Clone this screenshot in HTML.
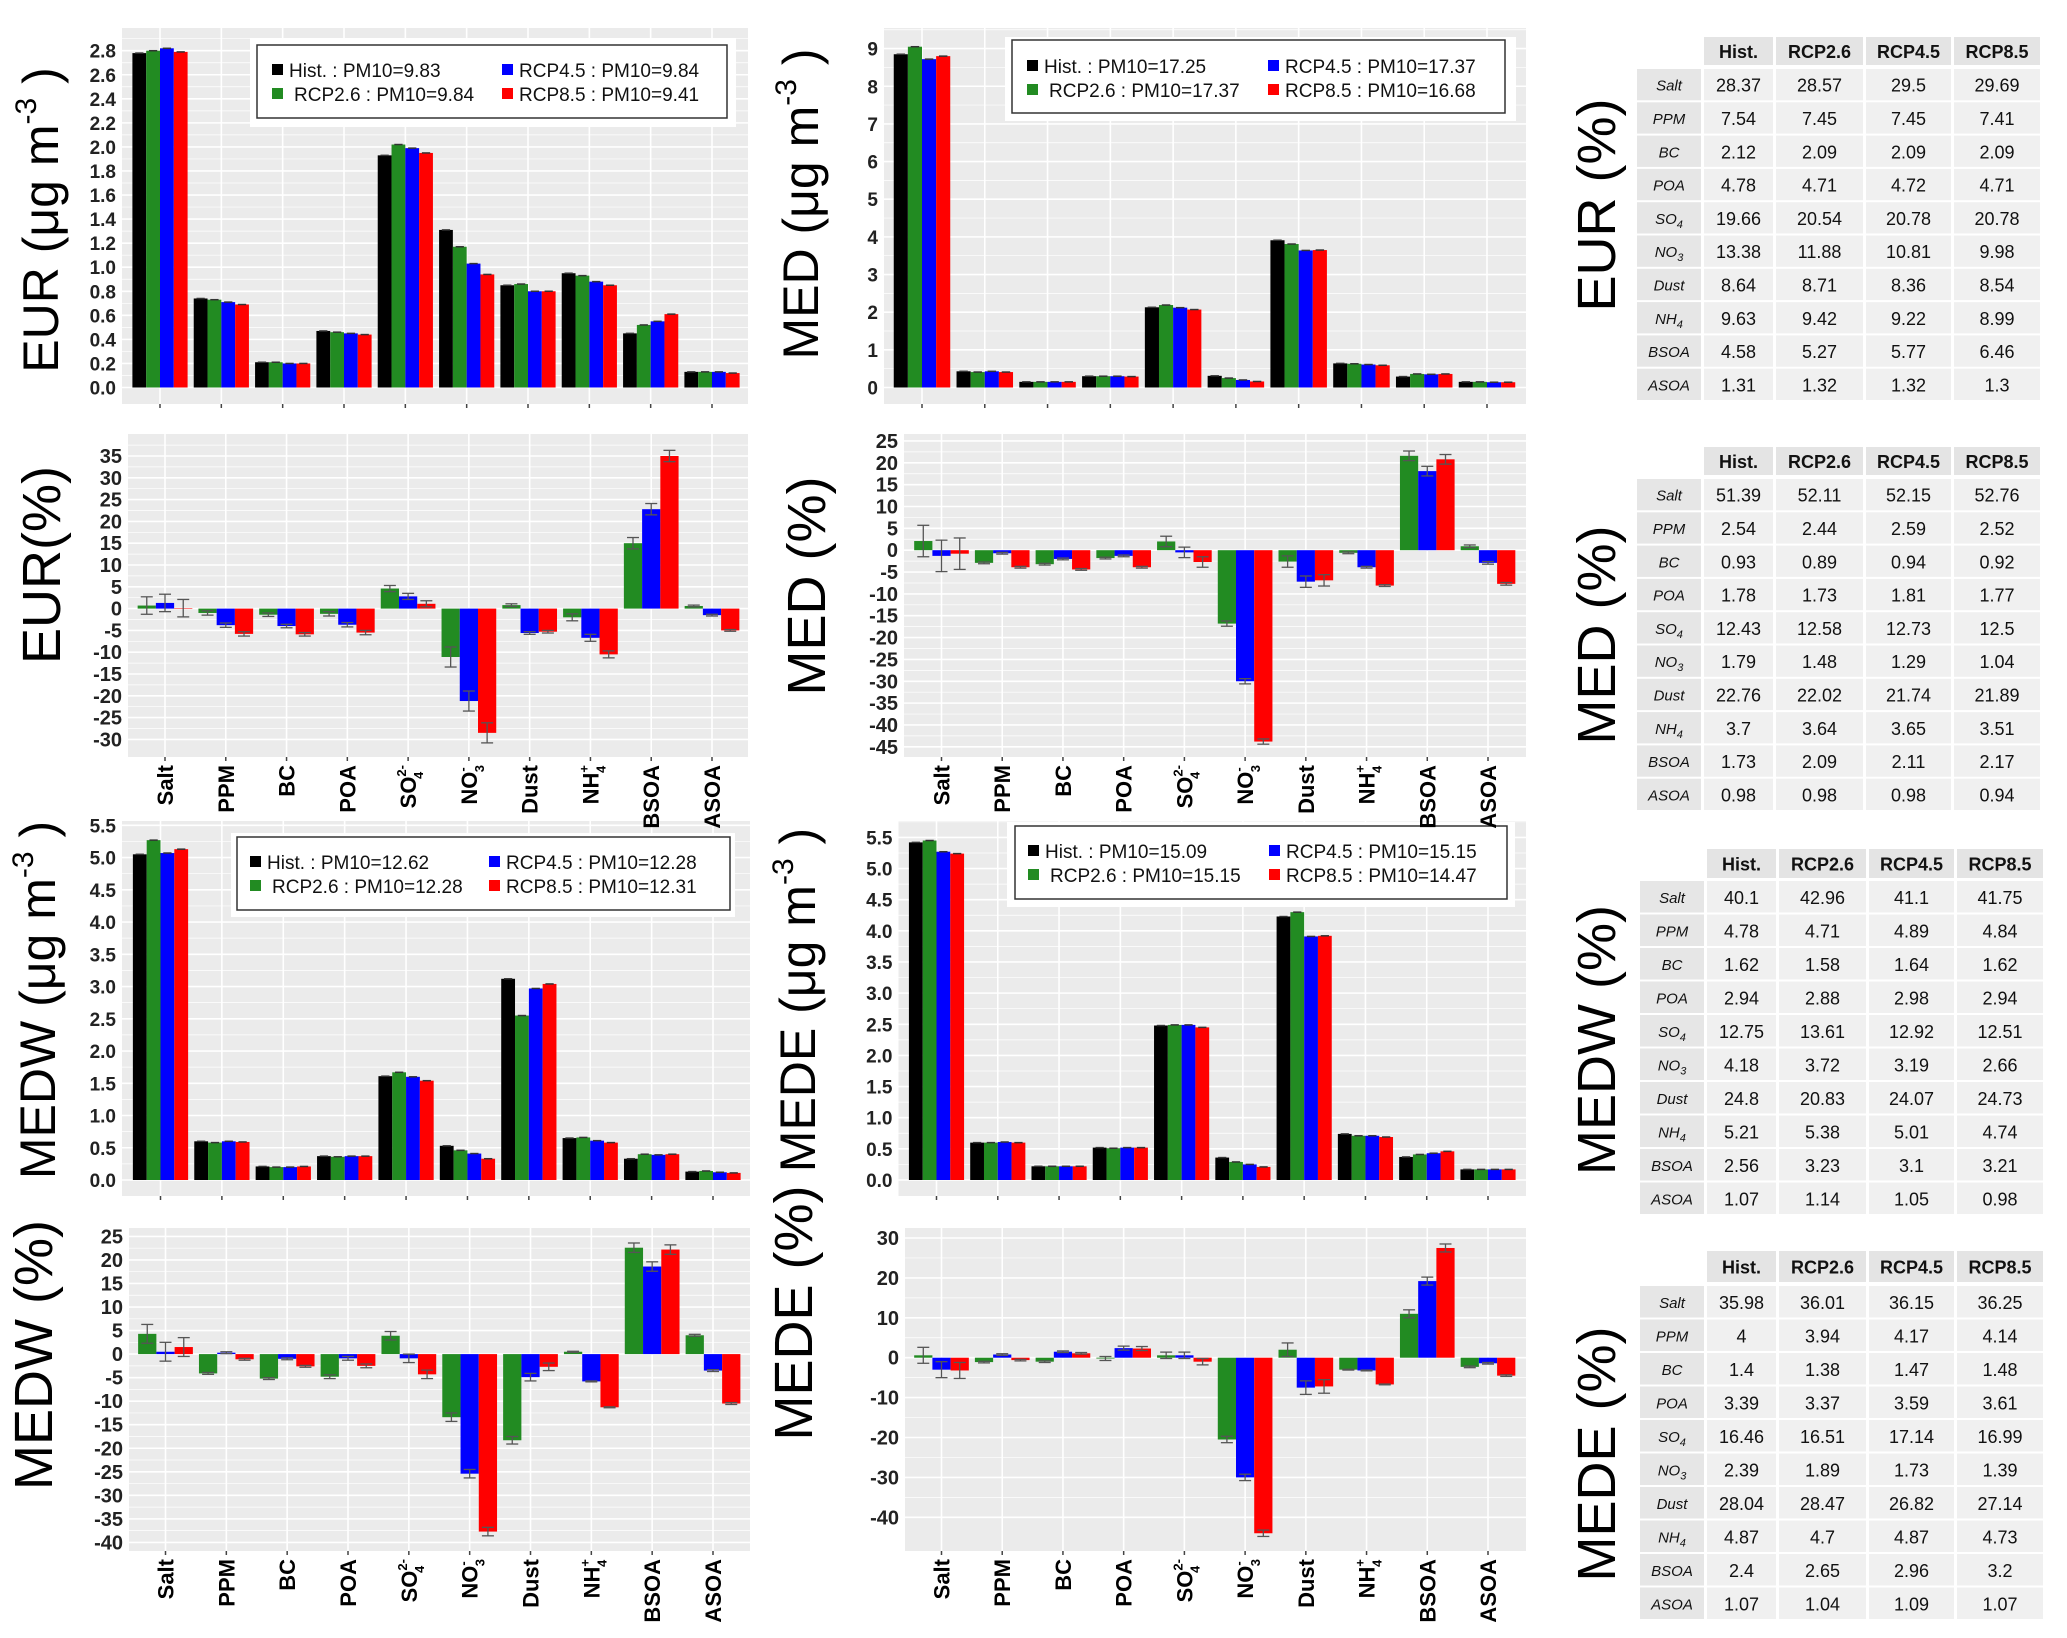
<!DOCTYPE html>
<html><head><meta charset="utf-8"><title>PM10 composition charts</title>
<style>
html,body{margin:0;padding:0;background:#fff;}
svg{display:block;font-family:"Liberation Sans",sans-serif;}
</style></head>
<body>
<svg id="fig" width="2067" height="1638" viewBox="0 0 2067 1638" xmlns="http://www.w3.org/2000/svg"></svg>
<script>
// ---------- data ----------
const cats = ['Salt','PPM','BC','POA','SO4','NO3','Dust','NH4','BSOA','ASOA'];
const seriesNames = ['Hist.','RCP2.6','RCP4.5','RCP8.5'];
const seriesColors = ['#000000','#228B22','#0000FF','#FF0000'];

const eurHist = [2.78,0.74,0.21,0.47,1.93,1.31,0.85,0.95,0.45,0.13];
const eurR26  = [2.80,0.73,0.21,0.46,2.02,1.17,0.86,0.93,0.52,0.13];
const eurR45  = [2.82,0.71,0.20,0.45,1.99,1.03,0.80,0.88,0.55,0.13];
const eurR85  = [2.79,0.69,0.20,0.44,1.95,0.94,0.80,0.85,0.61,0.12];
const eurPM10 = ['9.83','9.84','9.84','9.41'];
const eurPct26 = [0.7,-1.0,-1.4,-1.2,4.6,-11.1,0.8,-2.0,15.0,0.6];
const eurPct45 = [1.3,-3.8,-4.0,-3.7,2.8,-21.2,-5.6,-6.7,22.8,-1.5];
const eurPct85 = [0.1,-5.8,-5.9,-5.5,1.1,-28.5,-5.3,-10.5,35.0,-5.0];
const eurPctErr = [2.0,0.5,0.4,0.5,0.7,2.3,0.3,0.8,1.3,0.2];

const medHist = [8.85,0.43,0.15,0.30,2.13,0.31,3.91,0.64,0.29,0.15];
const medR26  = [9.05,0.41,0.15,0.30,2.19,0.25,3.81,0.63,0.36,0.15];
const medR45  = [8.72,0.43,0.15,0.30,2.12,0.20,3.64,0.61,0.35,0.14];
const medR85  = [8.80,0.41,0.15,0.29,2.07,0.16,3.65,0.59,0.36,0.14];
const medPM10 = ['17.25','17.37','17.37','16.68'];
const medPct26 = [2.1,-2.9,-3.2,-1.8,2.0,-16.8,-2.6,-0.6,21.6,0.9];
const medPct45 = [-1.3,-0.7,-2.0,-1.3,-0.5,-30.0,-7.2,-3.9,18.1,-2.9];
const medPct85 = [-0.8,-3.9,-4.4,-3.9,-2.7,-43.8,-6.9,-8.1,20.8,-7.7];
const medPctErr = [3.6,0.2,0.2,0.2,1.2,0.6,1.3,0.2,1.1,0.3];

const medwHist = [5.05,0.60,0.21,0.37,1.61,0.53,3.12,0.65,0.33,0.13];
const medwR26  = [5.27,0.58,0.20,0.36,1.67,0.46,2.55,0.66,0.40,0.14];
const medwR45  = [5.07,0.60,0.20,0.37,1.60,0.41,2.97,0.61,0.39,0.12];
const medwR85  = [5.13,0.59,0.21,0.37,1.54,0.33,3.04,0.58,0.40,0.11];
const medwPM10 = ['12.62','12.28','12.28','12.31'];
const medwPct26 = [4.3,-4.1,-5.2,-4.8,3.9,-13.4,-18.3,0.5,22.6,4.0];
const medwPct45 = [0.5,0.3,-1.0,-0.9,-0.9,-25.4,-4.9,-5.8,18.6,-3.5];
const medwPct85 = [1.5,-1.1,-2.6,-2.5,-4.3,-37.7,-2.7,-11.3,22.2,-10.5];
const medwPctErr = [2.0,0.2,0.2,0.4,0.9,0.9,0.8,0.1,1.0,0.2];

const medeHist = [5.42,0.60,0.22,0.52,2.48,0.36,4.23,0.74,0.37,0.17];
const medeR26  = [5.45,0.60,0.22,0.51,2.49,0.29,4.30,0.71,0.41,0.17];
const medeR45  = [5.27,0.61,0.22,0.52,2.49,0.25,3.91,0.71,0.43,0.17];
const medeR85  = [5.24,0.60,0.22,0.52,2.45,0.21,3.92,0.69,0.46,0.17];
const medePM10 = ['15.09','15.15','15.15','14.47'];
const medePct26 = [0.6,-1.1,-1.0,-0.2,0.6,-20.5,2.0,-3.0,11.0,-2.3];
const medePct45 = [-3.0,0.8,1.5,2.4,0.6,-30.0,-7.5,-3.2,19.2,-1.4];
const medePct85 = [-3.2,-0.6,1.1,2.3,-1.0,-44.0,-7.2,-6.7,27.5,-4.5];
const medePctErr = [2.0,0.2,0.2,0.5,0.8,0.8,1.7,0.1,1.0,0.2];

const eurTicksAbs = [0,0.2,0.4,0.6,0.8,1.0,1.2,1.4,1.6,1.8,2.0,2.2,2.4,2.6,2.8];
const medTicksAbs = [0,1,2,3,4,5,6,7,8,9];
const medwTicksAbs = [0,0.5,1.0,1.5,2.0,2.5,3.0,3.5,4.0,4.5,5.0,5.5];
const medeTicksAbs = [0,0.5,1.0,1.5,2.0,2.5,3.0,3.5,4.0,4.5,5.0,5.5];
const eurTicksPct = [-30,-25,-20,-15,-10,-5,0,5,10,15,20,25,30,35];
const medTicksPct = [-45,-40,-35,-30,-25,-20,-15,-10,-5,0,5,10,15,20,25];
const medwTicksPct = [-40,-35,-30,-25,-20,-15,-10,-5,0,5,10,15,20,25];
const medeTicksPct = [-40,-30,-20,-10,0,10,20,30];

const tableCols = ['Hist.','RCP2.6','RCP4.5','RCP8.5'];
const eurTable = [['28.37','28.57','29.5','29.69'],['7.54','7.45','7.45','7.41'],['2.12','2.09','2.09','2.09'],['4.78','4.71','4.72','4.71'],['19.66','20.54','20.78','20.78'],['13.38','11.88','10.81','9.98'],['8.64','8.71','8.36','8.54'],['9.63','9.42','9.22','8.99'],['4.58','5.27','5.77','6.46'],['1.31','1.32','1.32','1.3']];
const medTable = [['51.39','52.11','52.15','52.76'],['2.54','2.44','2.59','2.52'],['0.93','0.89','0.94','0.92'],['1.78','1.73','1.81','1.77'],['12.43','12.58','12.73','12.5'],['1.79','1.48','1.29','1.04'],['22.76','22.02','21.74','21.89'],['3.7','3.64','3.65','3.51'],['1.73','2.09','2.11','2.17'],['0.98','0.98','0.98','0.94']];
const medwTable = [['40.1','42.96','41.1','41.75'],['4.78','4.71','4.89','4.84'],['1.62','1.58','1.64','1.62'],['2.94','2.88','2.98','2.94'],['12.75','13.61','12.92','12.51'],['4.18','3.72','3.19','2.66'],['24.8','20.83','24.07','24.73'],['5.21','5.38','5.01','4.74'],['2.56','3.23','3.1','3.21'],['1.07','1.14','1.05','0.98']];
const medeTable = [['35.98','36.01','36.15','36.25'],['4','3.94','4.17','4.14'],['1.4','1.38','1.47','1.48'],['3.39','3.37','3.59','3.61'],['16.46','16.51','17.14','16.99'],['2.39','1.89','1.73','1.39'],['28.04','28.47','26.82','27.14'],['4.87','4.7','4.87','4.73'],['2.4','2.65','2.96','3.2'],['1.07','1.04','1.09','1.07']];

// ---------- helpers ----------
const NS = 'http://www.w3.org/2000/svg';
const svg = document.getElementById('fig');
function mk(parent, tag, attrs, name) {
  const e = document.createElementNS(NS, tag);
  for (const k in attrs) e.setAttribute(k, attrs[k]);
  
  
  parent.appendChild(e);
  return e;
}
function catMarkup(c, small) {
  const s = small || 13;
  if (c === 'SO4') return 'SO<tspan font-size="'+s+'" dy="-10">2-</tspan><tspan font-size="'+s+'" dx="-14" dy="17">4</tspan>';
  if (c === 'NO3') return 'NO<tspan font-size="'+s+'" dy="-10">-</tspan><tspan font-size="'+s+'" dx="-5" dy="17">3</tspan>';
  if (c === 'NH4') return 'NH<tspan font-size="'+s+'" dy="-10">+</tspan><tspan font-size="'+s+'" dx="-8" dy="17">4</tspan>';
  return c;
}
function fmt(v, d) { return v.toFixed(d); }

// ---------- absolute panel ----------
function absPanel(p, hist, r26, r45, r85, ticks, pm10) {
  const g = mk(svg, 'g', {}, p.name + '-panel');
  mk(g, 'rect', {x:p.x0, y:p.y0, width:p.x1-p.x0, height:p.y1-p.y0, fill:'#EBEBEB'}, 'plot-background');
  const yS = v => p.zero - v * (p.zero - p.topPx) / p.topVal;
  const step = ticks[1] - ticks[0];
  ticks.forEach((t, i) => {
    const yy = yS(t);
    mk(g, 'line', {x1:p.x0, x2:p.x1, y1:yy, y2:yy, stroke:'#fff', 'stroke-width':1.6}, 'major-gridline');
    const ym = yS(t + step/2);
    if (ym > p.y0) mk(g, 'line', {x1:p.x0, x2:p.x1, y1:ym, y2:ym, stroke:'#fff', 'stroke-width':0.7}, 'minor-gridline');
    const tl = mk(g, 'text', {x:p.x0-6, y:yy+7, 'text-anchor':'end', 'font-size':19, 'font-weight':'bold', fill:'#222'}, 'y-tick-label');
    tl.textContent = fmt(t, p.dec);
  });
  const sp = (p.cLast - p.cFirst) / (cats.length - 1);
  const bw = sp * 0.225;
  const series = [hist, r26, r45, r85];
  cats.forEach((c, i) => {
    const cx = p.cFirst + i * sp;
    mk(g, 'line', {x1:cx, x2:cx, y1:p.y0, y2:p.y1, stroke:'#fff', 'stroke-width':1.6}, 'x-gridline');
    mk(g, 'line', {x1:cx, x2:cx, y1:p.y1, y2:p.y1+4, stroke:'#444', 'stroke-width':1.5}, 'x-tick');
    series.forEach((s, k) => {
      const bx = cx + (k - 2) * bw;
      const top = yS(s[i]);
      mk(g, 'rect', {x:bx, y:top, width:bw, height:p.zero-top, fill:seriesColors[k]}, 'bar-' + seriesNames[k] + '-' + c);
      mk(g, 'line', {x1:bx+bw*0.2, x2:bx+bw*0.8, y1:top, y2:top, stroke:'#333', 'stroke-width':1.5}, 'error-cap');
    });
  });
  const L = p.leg;
  mk(g, 'rect', {x:L.x0, y:L.y0, width:L.x1-L.x0, height:L.y1-L.y0, fill:'#fff'}, 'legend-background');
  mk(g, 'rect', {x:L.bx0, y:L.by0, width:L.bx1-L.bx0, height:L.by1-L.by0, fill:'none', stroke:'#333', 'stroke-width':1.5}, 'legend-border');
  const pos = [[L.c1, L.r1], [L.c1, L.r2], [L.c2, L.r1], [L.c2, L.r2]];
  seriesNames.forEach((n, k) => {
    const [lx, ly] = pos[k];
    mk(g, 'rect', {x:lx, y:ly-6, width:11, height:11, fill:seriesColors[k]}, 'legend-key');
    const t = mk(g, 'text', {x:lx + (k===1 ? 22 : 17), y:ly+7, 'font-size':19, fill:'#111'}, 'legend-entry');
    t.textContent = n + ' : PM10=' + pm10[k];
  });
  const tt = mk(g, 'text', {x:p.tx, y:p.ty, 'text-anchor':'middle', 'font-size':50, fill:'#000', transform:'rotate(-90 '+p.tx+' '+p.ty+')'}, 'y-axis-title');
  tt.innerHTML = p.title + ' (μg m<tspan font-size="30" dy="-22">-3</tspan><tspan dy="22"> )</tspan>';
}

// ---------- percent panel ----------
function pctPanel(p, r26, r45, r85, err, ticks) {
  const g = mk(svg, 'g', {}, p.name + '-panel');
  mk(g, 'rect', {x:p.x0, y:p.y0, width:p.x1-p.x0, height:p.y1-p.y0, fill:'#EBEBEB'}, 'plot-background');
  const yS = v => p.zeroPx - v * p.ppu;
  const step = ticks[1] - ticks[0];
  ticks.forEach(t => {
    const yy = yS(t);
    mk(g, 'line', {x1:p.x0, x2:p.x1, y1:yy, y2:yy, stroke:'#fff', 'stroke-width':1.6}, 'major-gridline');
    const ym = yS(t + step/2);
    if (ym > p.y0) mk(g, 'line', {x1:p.x0, x2:p.x1, y1:ym, y2:ym, stroke:'#fff', 'stroke-width':0.7}, 'minor-gridline');
    const tl = mk(g, 'text', {x:p.x0-6, y:yy+7, 'text-anchor':'end', 'font-size':20, 'font-weight':'bold', fill:'#222'}, 'y-tick-label');
    tl.textContent = String(t);
  });
  const sp = (p.cLast - p.cFirst) / (cats.length - 1);
  const bw = sp * 0.3;
  const series = [r26, r45, r85];
  cats.forEach((c, i) => {
    const cx = p.cFirst + i * sp;
    mk(g, 'line', {x1:cx, x2:cx, y1:p.y0, y2:p.y1, stroke:'#fff', 'stroke-width':1.6}, 'x-gridline');
    mk(g, 'line', {x1:cx, x2:cx, y1:p.y1, y2:p.y1+4, stroke:'#444', 'stroke-width':1.5}, 'x-tick');
    series.forEach((s, k) => {
      const bx = cx + (k - 1.5) * bw;
      const v = s[i];
      const a = yS(Math.max(v, 0)), b = yS(Math.min(v, 0));
      mk(g, 'rect', {x:bx, y:a, width:bw, height:Math.max(b-a, 0.5), fill:seriesColors[k+1]}, 'bar-' + seriesNames[k+1] + '-' + c);
      const ex = bx + bw/2, e1 = yS(v + err[i]), e2 = yS(v - err[i]);
      mk(g, 'line', {x1:ex, x2:ex, y1:e1, y2:e2, stroke:'#555', 'stroke-width':1.3}, 'error-bar');
      mk(g, 'line', {x1:ex-6, x2:ex+6, y1:e1, y2:e1, stroke:'#555', 'stroke-width':1.3}, 'error-cap');
      mk(g, 'line', {x1:ex-6, x2:ex+6, y1:e2, y2:e2, stroke:'#555', 'stroke-width':1.3}, 'error-cap');
    });
    const lx = cx + 8, ly = p.y1 + 8;
    const lt = mk(g, 'text', {x:lx, y:ly, 'text-anchor':'end', 'font-size':22, 'font-weight':'bold', fill:'#000', transform:'rotate(-90 '+lx+' '+ly+')'}, 'x-category-label');
    lt.innerHTML = catMarkup(c);
  });
  const tt = mk(g, 'text', {x:p.tx, y:p.ty, 'text-anchor':'middle', 'font-size':54, fill:'#000', transform:'rotate(-90 '+p.tx+' '+p.ty+')'}, 'y-axis-title');
  tt.textContent = p.title;
}

// ---------- table ----------
function table(t, rows, label) {
  const g = mk(svg, 'g', {}, t.name + '-table');
  const xs = [t.x+0, t.x+67, t.x+139, t.x+229, t.x+317];
  const ws = [64, 69, 87, 85, 86];
  for (let j = 1; j < 5; j++) {
    mk(g, 'rect', {x:xs[j], y:t.hy, width:ws[j], height:t.hh, fill:'#e4e4e4'}, 'table-header-cell');
    const ht = mk(g, 'text', {x:xs[j]+ws[j]/2, y:t.hy+t.hh/2+7, 'text-anchor':'middle', 'font-size':18, 'font-weight':'bold', fill:'#111'}, 'table-column-header');
    ht.textContent = tableCols[j-1];
  }
  rows.forEach((r, i) => {
    const y = t.ry + i * t.rh;
    mk(g, 'rect', {x:xs[0], y:y, width:ws[0], height:t.rh-2, fill:'#e6e6e6'}, 'table-row-label-cell');
    const rl = mk(g, 'text', {x:xs[0]+ws[0]/2, y:y+t.rh/2+5, 'text-anchor':'middle', 'font-size':15, 'font-style':'italic', fill:'#111'}, 'table-row-label');
    rl.innerHTML = cats[i] === 'SO4' ? 'SO<tspan font-size="11" dy="4">4</tspan>' : cats[i] === 'NO3' ? 'NO<tspan font-size="11" dy="4">3</tspan>' : cats[i] === 'NH4' ? 'NH<tspan font-size="11" dy="4">4</tspan>' : cats[i];
    r.forEach((v, j) => {
      mk(g, 'rect', {x:xs[j+1], y:y, width:ws[j+1], height:t.rh-2, fill:'#f0f0f0'}, 'table-cell');
      const vt = mk(g, 'text', {x:xs[j+1]+ws[j+1]/2, y:y+t.rh/2+6, 'text-anchor':'middle', 'font-size':18, fill:'#111'}, 'table-value');
      vt.textContent = v;
    });
  });
  const lx = 1615, ly = t.ly;
  const lt = mk(g, 'text', {x:lx, y:ly, 'text-anchor':'middle', 'font-size':54, fill:'#000', transform:'rotate(-90 '+lx+' '+ly+')'}, 'table-region-label');
  lt.textContent = label;
}

// ---------- build (absolute panels first so percent-panel labels draw on top) ----------
absPanel({name:'eur-abs', x0:122, x1:748, y0:28, y1:404, zero:387.5, topPx:50.7, topVal:2.8, dec:1, cFirst:160, cLast:712, title:'EUR', tx:58, ty:220,
  leg:{x0:250,y0:38,x1:736,y1:127,bx0:257,by0:45,bx1:727,by1:118,c1:272,c2:502,r1:70,r2:94}}, eurHist, eurR26, eurR45, eurR85, eurTicksAbs, eurPM10);
absPanel({name:'med-abs', x0:884, x1:1526, y0:28, y1:404, zero:387.5, topPx:48.6, topVal:9, dec:0, cFirst:922, cLast:1487, title:'MED', tx:818, ty:204,
  leg:{x0:1005,y0:37,x1:1516,y1:121,bx0:1012,by0:40,bx1:1505,by1:113,c1:1027,c2:1268,r1:66,r2:90}}, medHist, medR26, medR45, medR85, medTicksAbs, medPM10);
absPanel({name:'medw-abs', x0:122, x1:750, y0:821, y1:1196, zero:1180, topPx:825.3, topVal:5.5, dec:1, cFirst:160.5, cLast:713, title:'MEDW', tx:55, ty:1000,
  leg:{x0:231,y0:833,x1:735,y1:917,bx0:237,by0:837,bx1:730,by1:910,c1:250,c2:489,r1:862,r2:886}}, medwHist, medwR26, medwR45, medwR85, medwTicksAbs, medwPM10);
absPanel({name:'mede-abs', x0:898.5, x1:1526, y0:821, y1:1196, zero:1180, topPx:837.4, topVal:5.5, dec:1, cFirst:936.5, cLast:1488, title:'MEDE', tx:815, ty:1000,
  leg:{x0:1007,y0:822,x1:1515,y1:907,bx0:1015,by0:826,bx1:1507,by1:899,c1:1028,c2:1269,r1:851,r2:875}}, medeHist, medeR26, medeR45, medeR85, medeTicksAbs, medePM10);

pctPanel({name:'eur-pct', x0:128, x1:748, y0:434, y1:757, zeroPx:608.6, ppu:4.36, cFirst:165, cLast:712, title:'EUR(%)', tx:60, ty:565}, eurPct26, eurPct45, eurPct85, eurPctErr, eurTicksPct);
pctPanel({name:'med-pct', x0:904, x1:1526, y0:434, y1:757, zeroPx:550.2, ppu:4.369, cFirst:941.5, cLast:1488, title:'MED (%)', tx:825, ty:586}, medPct26, medPct45, medPct85, medPctErr, medTicksPct);
pctPanel({name:'medw-pct', x0:129, x1:750, y0:1228, y1:1551, zeroPx:1354.1, ppu:4.708, cFirst:165.5, cLast:713, title:'MEDW (%)', tx:52, ty:1355}, medwPct26, medwPct45, medwPct85, medwPctErr, medwTicksPct);
pctPanel({name:'mede-pct', x0:905, x1:1526, y0:1228, y1:1551, zeroPx:1357.7, ppu:3.99, cFirst:941.5, cLast:1488, title:'MEDE (%)', tx:812, ty:1313}, medePct26, medePct45, medePct85, medePctErr, medeTicksPct);

table({name:'eur', x:1637, hy:37, hh:28, ry:69, rh:33.3, ly:205}, eurTable, 'EUR   (%)');
table({name:'med', x:1637, hy:447, hh:28, ry:479, rh:33.3, ly:635}, medTable, 'MED   (%)');
table({name:'medw', x:1640, hy:849, hh:29, ry:881, rh:33.5, ly:1040}, medwTable, 'MEDW (%)');
table({name:'mede', x:1640, hy:1251, hh:31, ry:1286, rh:33.5, ly:1454}, medeTable, 'MEDE (%)');
</script>
</body></html>
